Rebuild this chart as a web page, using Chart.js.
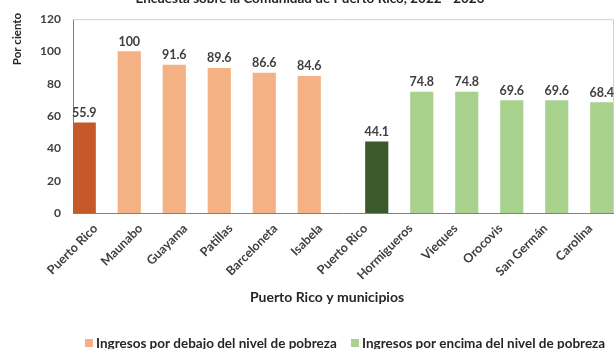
<!DOCTYPE html>
<html>
<head>
<meta charset="utf-8">
<script src="https://cdn.jsdelivr.net/npm/chart.js@4"></script>
<style>
  html, body { margin: 0; padding: 0; background: #fff; }
  #wrap { width: 615px; height: 349px; position: relative; }
</style>
</head>
<body>
<div id="wrap"><canvas id="pobreza"></canvas></div>
<script>
// Municipios con mayor porcentaje por debajo / por encima del nivel de pobreza
const categorias = ['Puerto Rico', 'Maunabo', 'Guayama', 'Patillas', 'Barceloneta', 'Isabela',
    'Puerto Rico', 'Hormigueros', 'Vieques', 'Orocovis', 'San Germán', 'Carolina'];
const debajoPobreza = [55.9, 100, 91.6, 89.6, 86.6, 84.6, null, null, null, null, null, null];
const encimaPobreza = [null, null, null, null, null, null, 44.1, 74.8, 74.8, 69.6, 69.6, 68.4];
const ticksY = [0, 20, 40, 60, 80, 100, 120];

const FONT = 'Lato, "Open Sans", sans-serif';
const GRIS = '#404040';

// El primer valor de cada grupo (Puerto Rico) va en tono oscuro
const coloresDebajo = debajoPobreza.map((v, i) => i === 0 ? '#C55A28' : '#F4B183');
const coloresEncima = encimaPobreza.map((v, i) => i === 6 ? '#3B5A2B' : '#A9D18E');

// Etiquetas de valor, títulos, leyenda y borde del área
const extras = {
    id: 'extras',
    afterDatasetsDraw(chart) {
        const ctx = chart.ctx;
        const area = chart.chartArea;
        ctx.save();

        ctx.strokeStyle = '#d0d0d0';
        ctx.lineWidth = 1;
        ctx.beginPath();
        ctx.moveTo(area.left, area.top + 0.5);
        ctx.lineTo(area.right + 0.5, area.top + 0.5);
        ctx.lineTo(area.right + 0.5, area.bottom);
        ctx.stroke();

        ctx.fillStyle = GRIS;
        ctx.font = 'bold 12.5px ' + FONT;
        ctx.textAlign = 'center';
        ctx.textBaseline = 'alphabetic';
        chart.data.datasets.forEach((ds, di) => {
            chart.getDatasetMeta(di).data.forEach((bar, i) => {
                const v = ds.data[i];
                if (v === null) return;
                ctx.fillText(String(v), bar.x, bar.y - 6);
            });
        });

        // título (queda casi fuera del lienzo)
        ctx.fillStyle = '#262626';
        ctx.font = 'bold 13.5px ' + FONT;
        ctx.fillText('Encuesta sobre la Comunidad de Puerto Rico, 2022 - 2023', 310, 3);

        ctx.font = 'bold 14px ' + FONT;
        ctx.fillText('Puerto Rico y municipios', 327, 302);

        ctx.save();
        ctx.translate(21, 39);
        ctx.rotate(-Math.PI / 2);
        ctx.font = 'bold 11.5px ' + FONT;
        ctx.fillText('Por ciento', 0, 0);
        ctx.restore();

        // leyenda
        const items = [
            { x: 85, color: '#F4B183', text: chart.data.datasets[0].label },
            { x: 351, color: '#A9D18E', text: chart.data.datasets[1].label }
        ];
        ctx.font = 'bold 13.5px ' + FONT;
        ctx.textAlign = 'left';
        items.forEach(it => {
            ctx.fillStyle = it.color;
            ctx.fillRect(it.x, 339, 8, 8);
            ctx.fillStyle = '#262626';
            ctx.fillText(it.text, it.x + 11, 348);
        });
        ctx.restore();
    }
};

new Chart(document.getElementById('pobreza').getContext('2d'), {
    type: 'bar',
    data: {
        labels: categorias,
        datasets: [{
            label: 'Ingresos por debajo del nivel de pobreza',
            data: debajoPobreza,
            backgroundColor: coloresDebajo
        }, {
            label: 'Ingresos por encima del nivel de pobreza',
            data: encimaPobreza,
            backgroundColor: coloresEncima
        }]
    },
    options: {
        responsive: true,
        maintainAspectRatio: false,
        animation: false,
        layout: { padding: { left: 0, right: 2, top: 17, bottom: 0 } },
        datasets: {
            bar: { categoryPercentage: 1, barPercentage: 1 }
        },
        plugins: {
            legend: { display: false },
            tooltip: { enabled: false }
        },
        scales: {
            x: {
                grid: { display: false, drawTicks: false },
                border: { color: '#808080', width: 1 },
                ticks: {
                    color: GRIS,
                    font: { family: FONT, size: 12.5, weight: 'bold' },
                    minRotation: 45,
                    maxRotation: 45,
                    padding: 8
                },
                afterFit(scale) { scale.height = 136; }
            },
            y: {
                min: 0,
                max: 120,
                afterBuildTicks(scale) { scale.ticks = ticksY.map(v => ({ value: v })); },
                grid: { display: false, drawTicks: false },
                border: { color: '#808080', width: 1 },
                ticks: {
                    color: GRIS,
                    font: { family: FONT, size: 12, weight: 'bold' },
                    padding: 12
                },
                afterFit(scale) { scale.width = 73; }
            }
        }
    },
    plugins: [extras]
});
</script>
</body>
</html>
